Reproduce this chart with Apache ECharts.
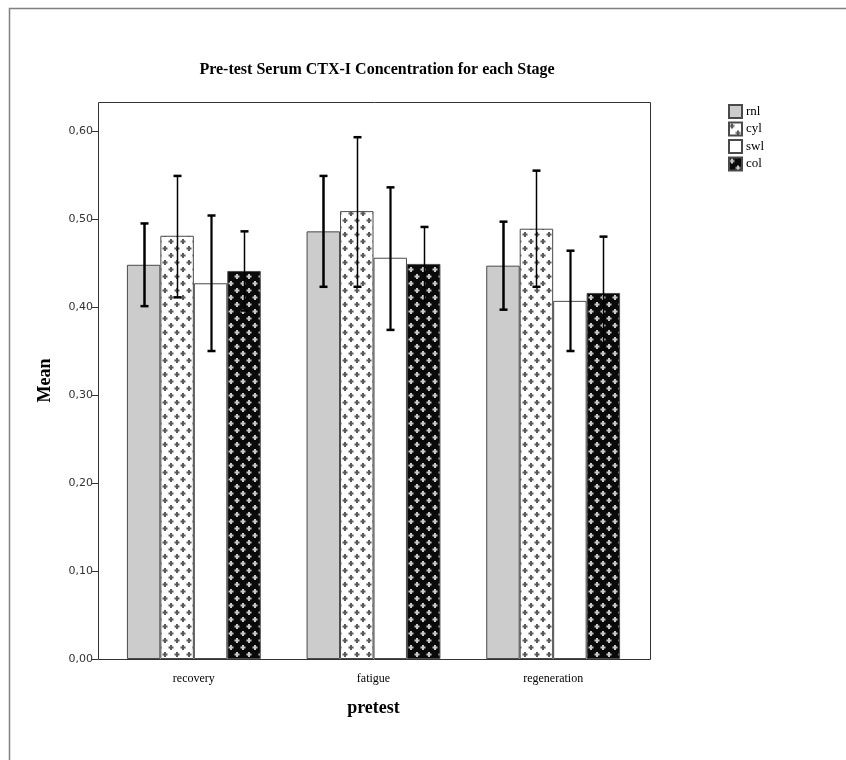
<!DOCTYPE html>
<html>
<head>
<meta charset="utf-8">
<script src="https://cdn.jsdelivr.net/npm/echarts@6/dist/echarts.min.js"></script>
<style>html,body{margin:0;padding:0;background:#fff;}#main{width:846px;height:760px;}</style>
</head>
<body>
<div id="main"></div>
<script>
// ---- data ----
const categories = ['recovery', 'fatigue', 'regeneration'];
const seriesNames = ['rnl', 'cyl', 'swl', 'col'];
const rnlMean = [0.448, 0.486, 0.447];
const cylMean = [0.481, 0.509, 0.489];
const swlMean = [0.427, 0.456, 0.407];
const colMean = [0.441, 0.449, 0.416];
const rnlLow = [0.401, 0.423, 0.397];
const rnlHigh = [0.495, 0.549, 0.497];
const cylLow = [0.411, 0.423, 0.423];
const cylHigh = [0.549, 0.593, 0.555];
const swlLow = [0.350, 0.374, 0.350];
const swlHigh = [0.504, 0.536, 0.464];
const colLow = [0.396, 0.407, 0.352];
const colHigh = [0.486, 0.491, 0.480];
const yTicks = [0, 0.1, 0.2, 0.3, 0.4, 0.5, 0.6];

const means = [rnlMean, cylMean, swlMean, colMean];
const lows = [rnlLow, cylLow, swlLow, colLow];
const highs = [rnlHigh, cylHigh, swlHigh, colHigh];

function makePattern(bg, fg) {
  const c = document.createElement('canvas');
  c.width = 12; c.height = 14;
  const ctx = c.getContext('2d');
  ctx.fillStyle = bg; ctx.fillRect(0, 0, 12, 14);
  ctx.fillStyle = fg;
  const plus = (cx, cy) => {
    ctx.fillRect(cx - 2.5, cy - 1, 5, 2);
    ctx.fillRect(cx - 1, cy - 2.5, 2, 5);
  };
  plus(3, 3.5);
  plus(9, 10.5);
  return { image: c, repeat: 'repeat' };
}

const fills = ['#cccccc', makePattern('#ffffff', '#5a5a5a'), '#ffffff', makePattern('#0a0a0a', '#c8c8c8')];
const errWidths = [2.5, 1.5, 2.2, 1.5];
const GAP = 0.255;

const series = [];
seriesNames.forEach((n, i) => {
  series.push({
    name: n, type: 'bar', data: means[i], barGap: '0%', barCategoryGap: (GAP * 100) + '%',
    itemStyle: { color: fills[i], borderColor: '#4a4a4a', borderWidth: 1 },
    emphasis: { disabled: true }, z: 2
  });
});
seriesNames.forEach((n, i) => {
  series.push({
    type: 'custom', z: 5, silent: true,
    data: categories.map((c, k) => [k, lows[i][k], highs[i][k]]),
    renderItem: function (params, api) {
      const k = api.value(0);
      const band = api.size([1, 0])[0];
      const gw = band * (1 - GAP);
      const bw = gw / 4;
      const lo = api.coord([k, api.value(1)]);
      const hi = api.coord([k, api.value(2)]);
      const x = Math.round(lo[0] - gw / 2 + bw * (i + 0.5)) + 0.5;
      const cap = 4;
      const st = { stroke: '#000', lineWidth: errWidths[i] };
      return {
        type: 'group', children: [
          { type: 'line', shape: { x1: x, y1: lo[1], x2: x, y2: hi[1] }, style: st },
          { type: 'line', shape: { x1: x - cap, y1: hi[1], x2: x + cap, y2: hi[1] }, style: { stroke: '#000', lineWidth: 2.5 } },
          { type: 'line', shape: { x1: x - cap, y1: lo[1], x2: x + cap, y2: lo[1] }, style: { stroke: '#000', lineWidth: 2.5 } }
        ]
      };
    }
  });
});

const chart = echarts.init(document.getElementById('main'));
chart.setOption({
  animation: false,
  backgroundColor: '#fff',
  graphic: [
    { type: 'rect', shape: { x: 9.5, y: 8.5, width: 900, height: 900 }, style: { fill: 'none', stroke: '#808080', lineWidth: 1.5 }, z: 0 },
    { type: 'rect', shape: { x: 98.5, y: 102.5, width: 552, height: 557 }, style: { fill: 'none', stroke: '#333', lineWidth: 1 }, z: 10, silent: true },
    { type: 'text', x: 377, y: 70, style: { text: 'Pre-test Serum CTX-I Concentration for each Stage', font: 'bold 16px "Liberation Serif"', fill: '#000', textAlign: 'center', textVerticalAlign: 'middle' } }
  ],
  legend: {
    data: seriesNames, orient: 'vertical', left: 723, top: 99,
    icon: 'rect',
    itemWidth: 13, itemHeight: 13, itemGap: 2.5,
    textStyle: { fontFamily: 'Liberation Serif', fontSize: 13, lineHeight: 13, color: '#000', padding: [0, 0, 0, -1] },
    selectedMode: false
  },
  grid: { left: 104, right: 203, top: 102, bottom: 101 },
  xAxis: {
    type: 'category', data: categories,
    name: 'pretest', nameLocation: 'middle', nameGap: 40,
    nameTextStyle: { fontFamily: 'Liberation Serif', fontWeight: 'bold', fontSize: 18, color: '#000' },
    axisLine: { show: false },
    axisTick: { alignWithLabel: true, length: 8, lineStyle: { color: '#333' } },
    axisLabel: { fontFamily: 'Liberation Serif', fontSize: 12, color: '#000', margin: 14 }
  },
  yAxis: {
    type: 'value', min: 0, max: 0.633, interval: 0.1, offset: 6,
    name: 'Mean', nameLocation: 'middle', nameGap: 44,
    nameTextStyle: { fontFamily: 'Liberation Serif', fontWeight: 'bold', fontSize: 18, color: '#000' },
    axisLine: { show: false },
    axisTick: { show: true, length: 6, lineStyle: { color: '#333' } },
    splitLine: { show: false },
    axisLabel: {
      showMaxLabel: false, fontFamily: 'DejaVu Sans', fontSize: 11, color: '#333', margin: 5,
      formatter: v => yTicks.some(t => Math.abs(t - v) < 1e-9) ? v.toFixed(2).replace('.', ',') : ''
    }
  },
  series: series
});
</script>
</body>
</html>
